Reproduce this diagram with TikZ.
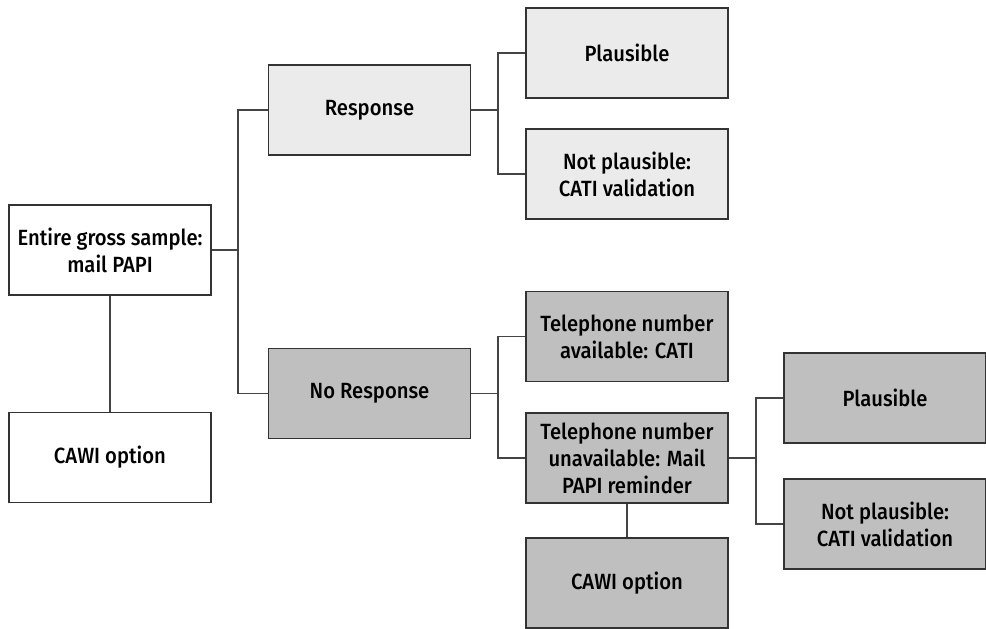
\documentclass[tikz,border=0pt]{standalone}
\usepackage{fontspec}
\setmainfont{Fira Sans}
\newfontfamily\fmed{Fira Sans Medium}[FakeStretch=0.92]
\usetikzlibrary{positioning}
\definecolor{lightfill}{HTML}{EBEBEB}
\definecolor{darkfill}{HTML}{BFBFBF}
\definecolor{edgecol}{HTML}{333333}
\definecolor{linecol}{HTML}{444444}
\begin{document}
\begin{tikzpicture}[x=1pt,y=-1pt,
  box/.style={draw=edgecol, line width=1.2pt, minimum width=202pt, minimum height=90pt,
    align=center, inner sep=2pt, font=\fmed\fontsize{22}{27}\selectfont},
  whitebox/.style={box, fill=white},
  lightbox/.style={box, fill=lightfill},
  darkbox/.style={box, fill=darkfill},
  conn/.style={draw=linecol, line width=1.2pt}]
\useasboundingbox (0,0) rectangle (986,629);
\node[whitebox] (gross) at (110,250) {Entire gross sample:\\mail PAPI};
\node[whitebox] (cawi1) at (110,457.5) {CAWI option};
\node[lightbox] (resp) at (369.5,110) {Response};
\node[darkbox] (noresp) at (369.5,393.5) {No Response};
\node[lightbox] (plaus1) at (627,53) {Plausible};
\node[lightbox] (notp1) at (627,174) {Not plausible:\\CATI validation};
\node[darkbox] (telav) at (627,336.5) {Telephone number\\available: CATI};
\node[darkbox] (telun) at (627,458) {Telephone number\\unavailable: Mail\\PAPI reminder};
\node[darkbox] (cawi2) at (627,583) {CAWI option};
\node[darkbox] (plaus2) at (885,398) {Plausible};
\node[darkbox] (notp2) at (885,524) {Not plausible:\\CATI validation};
\coordinate (j1) at (238,250);
\coordinate (j2) at (498,110);
\coordinate (j3) at (498,393.5);
\coordinate (j4) at (756,458);
\draw[conn] (gross.south) -- (cawi1.north);
\draw[conn] (gross.east) -- (j1);
\draw[conn] (resp.west) -| (j1) |- (noresp.west);
\draw[conn] (resp.east) -- (j2);
\draw[conn] (plaus1.west) -| (j2) |- (notp1.west);
\draw[conn] (noresp.east) -- (j3);
\draw[conn] (telav.west) -| (j3) |- (telun.west);
\draw[conn] (telun.south) -- (cawi2.north);
\draw[conn] (telun.east) -- (j4);
\draw[conn] (plaus2.west) -| (j4) |- (notp2.west);
\end{tikzpicture}
\end{document}
